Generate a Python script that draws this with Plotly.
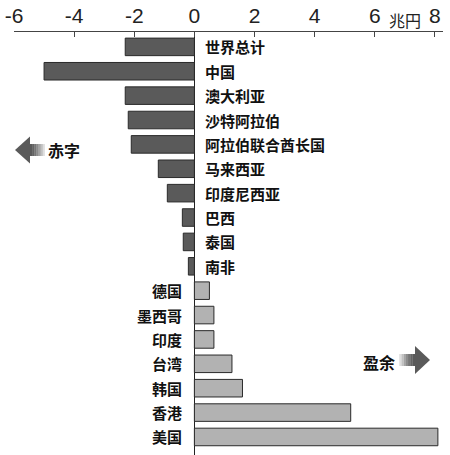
import plotly.graph_objects as go

# 经常收支 (兆円)
countries = ["世界总计", "中国", "澳大利亚", "沙特阿拉伯", "阿拉伯联合酋长国", "马来西亚",
             "印度尼西亚", "巴西", "泰国", "南非",
             "德国", "墨西哥", "印度", "台湾", "韩国", "香港", "美国"]
values = [-2.3, -5.0, -2.3, -2.2, -2.1, -1.2, -0.9, -0.4, -0.37, -0.2,
          0.5, 0.65, 0.65, 1.25, 1.6, 5.2, 8.1]
tick_vals = [-6, -4, -2, 0, 2, 4, 6, 8]
tick_text = ["-6", "-4", "-2", "0", "2", "4", "6", "8"]
unit_label = "兆円"

W, H = 450, 455
L, R, T, B = 14, 7, 32, 0
pw, ph = W - L - R, H - T - B


def pp(px, py):
    # pixel -> paper coords
    return (px - L) / pw, (H - B - py) / ph


ypos = list(range(len(countries)))
colors = ["#5a5a5a" if v < 0 else "#b2b2b2" for v in values]

fig = go.Figure()
fig.add_trace(go.Bar(x=values, y=ypos, orientation="h", width=0.72,
                     marker=dict(color=colors, line=dict(color="#2a2a2a", width=1)),
                     hoverinfo="skip", showlegend=False, cliponaxis=False))

cjk = "Noto Sans CJK SC"
ann = []
for c, v, y in zip(countries, values, ypos):
    if v < 0:
        ann.append(dict(x=0, y=y, text="<b>%s</b>" % c, showarrow=False, xanchor="left",
                        yanchor="middle", xshift=9,
                        font=dict(family=cjk, size=15, color="#111")))
    else:
        ann.append(dict(x=0, y=y, text="<b>%s</b>" % c, showarrow=False, xanchor="right",
                        yanchor="middle", xshift=-10,
                        font=dict(family=cjk, size=15, color="#111")))

# unit
ux, uy = pp(405, 20)
ann.append(dict(x=ux, y=uy, xref="paper", yref="paper", text=unit_label, showarrow=False,
                xanchor="center", yanchor="middle",
                font=dict(family=cjk, size=16, color="#222")))
# arrow labels
ax, ay = pp(64, 150)
ann.append(dict(x=ax, y=ay, xref="paper", yref="paper", text="<b>赤字</b>", showarrow=False,
                xanchor="center", yanchor="middle",
                font=dict(family=cjk, size=16, color="#111")))
bx, by = pp(379, 362)
ann.append(dict(x=bx, y=by, xref="paper", yref="paper", text="<b>盈余</b>", showarrow=False,
                xanchor="center", yanchor="middle",
                font=dict(family=cjk, size=16, color="#111")))

shapes = []


def arrow(tip_x, base_x, tail_end, cy, head_h, tail_h):
    x0, y0 = pp(tip_x, cy)
    x1, y1 = pp(base_x, cy - head_h / 2)
    x2, y2 = pp(base_x, cy + head_h / 2)
    shapes.append(dict(type="path", xref="paper", yref="paper",
                       path="M %f %f L %f %f L %f %f Z" % (x0, y0, x1, y1, x2, y2),
                       fillcolor="#5a5a5a", line=dict(width=0)))
    n = 8
    grays = [90 + int((255 - 90) * (i / (n - 1)) ** 1.4) for i in range(n)]
    step = (tail_end - base_x) / n
    for i in range(n):
        a = base_x + step * i
        b = base_x + step * (i + 1.15)
        ax0, ay0 = pp(a, cy - tail_h / 2)
        ax1, ay1 = pp(b, cy + tail_h / 2)
        g = grays[i]
        shapes.append(dict(type="rect", xref="paper", yref="paper",
                           x0=min(ax0, ax1), x1=max(ax0, ax1), y0=min(ay0, ay1), y1=max(ay0, ay1),
                           fillcolor="rgb(%d,%d,%d)" % (g, g, g), line=dict(width=0)))


arrow(15, 30, 47, 150, 27, 12)
arrow(430, 415, 397, 360, 28, 12)

fig.update_layout(
    width=W, height=H,
    margin=dict(l=L, r=R, t=T, b=B, autoexpand=False),
    paper_bgcolor="white", plot_bgcolor="white",
    annotations=ann, shapes=shapes,
    xaxis=dict(side="top", range=[-6, 8.27], tickvals=tick_vals, ticktext=tick_text,
               automargin=False,
               showgrid=False, showline=True, linecolor="#444", linewidth=1,
               ticks="inside", ticklen=5, tickcolor="#444", tickwidth=1,
               zeroline=True, zerolinecolor="#222", zerolinewidth=1,
               tickfont=dict(family="Liberation Sans Narrow, Arial Narrow, Liberation Sans", size=21, color="#222")),
    yaxis=dict(range=[16.74, -0.61], showticklabels=False, showgrid=False, automargin=False,
               zeroline=False, showline=False, ticks=""),
)

# page body has a default 8px margin; drop it so the figure sits at the window corner
fig.write_html("out.html", config={"displayModeBar": False},
               post_script="document.body.style.margin='0';")
